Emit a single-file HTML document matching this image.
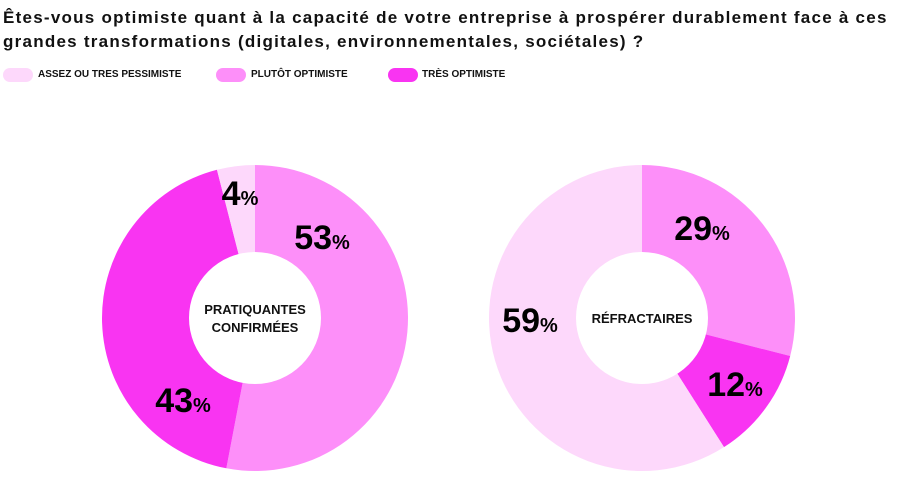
<!DOCTYPE html>
<html><head><meta charset="utf-8"><style>
body{margin:0;width:906px;height:489px;background:#fff;overflow:hidden;font-family:"Liberation Sans",sans-serif;}
#title{position:absolute;left:3px;top:6px;font-size:17px;letter-spacing:1.25px;font-weight:bold;line-height:24px;color:#111;white-space:nowrap;}
.leg{position:absolute;top:68px;height:14px;}
.sw{position:absolute;width:30px;height:14px;border-radius:7px;}
.lt{position:absolute;top:1px;font-size:10px;font-weight:bold;white-space:nowrap;color:#111;}
</style></head><body>
<div id="title">Êtes-vous optimiste quant à la capacité de votre entreprise à prospérer durablement face à ces<br>grandes transformations (digitales, environnementales, sociétales) ?</div>
<div class="leg"><div class="sw" style="left:3px;background:#fdd8fb"></div><div class="lt" style="left:38px">ASSEZ OU TRES PESSIMISTE</div></div>
<div class="leg"><div class="sw" style="left:216px;background:#fd8ff9"></div><div class="lt" style="left:251px">PLUTÔT OPTIMISTE</div></div>
<div class="leg"><div class="sw" style="left:388px;background:#f934f2"></div><div class="lt" style="left:422px">TRÈS OPTIMISTE</div></div>
<svg id="chart" width="906" height="489" style="position:absolute;left:0;top:0"></svg>
<script>
const groups=["PRATIQUANTES|CONFIRMÉES","RÉFRACTAIRES"];
const plutot=[53,29];
const tres=[43,12];
const pessimiste=[4,59];
const colors=["#fd8ff9","#f934f2","#fdd8fb"];
const centers=[[255,318],[642,318]];
const labelPos=[[[322,237],[183,400],[240,193]],[[702,228],[735,384],[530,320]]];
const R=153,r=66;
const svg=document.getElementById('chart');
const NS="http://www.w3.org/2000/svg";
function pt(cx,cy,rad,f){const a=f*2*Math.PI;return [cx+rad*Math.sin(a),cy-rad*Math.cos(a)];}
groups.forEach((g,i)=>{
  const vals=[plutot[i],tres[i],pessimiste[i]];
  const tot=vals.reduce((a,b)=>a+b,0);
  const [cx,cy]=centers[i];let acc=0;
  vals.forEach((v,j)=>{
    const f0=acc/tot,f1=(acc+v)/tot;acc+=v;
    const p0=pt(cx,cy,R,f0),p1=pt(cx,cy,R,f1);
    const large=(f1-f0)>0.5?1:0;
    const p=document.createElementNS(NS,'path');
    p.setAttribute('d',`M${cx},${cy}L${p0[0]},${p0[1]}A${R},${R} 0 ${large} 1 ${p1[0]},${p1[1]}Z`);
    p.setAttribute('fill',colors[j]);
    
    
    svg.appendChild(p);
  });
  const c=document.createElementNS(NS,'circle');
  c.setAttribute('cx',cx);c.setAttribute('cy',cy);c.setAttribute('r',r);c.setAttribute('fill','#fff');
  
  
  svg.appendChild(c);
  const lines=g.split('|');
  lines.forEach((ln,k)=>{
    const t=document.createElementNS(NS,'text');
    t.setAttribute('x',cx);t.setAttribute('y',cy+5+(k-(lines.length-1)/2)*18);
    t.setAttribute('text-anchor','middle');t.setAttribute('font-size','13');t.setAttribute('font-weight','bold');
    t.setAttribute('font-family','Liberation Sans, sans-serif');t.setAttribute('fill','#111');
    t.textContent=ln;
    
    
    svg.appendChild(t);
  });
  vals.forEach((v,j)=>{
    const [lx,ly]=labelPos[i][j];
    const t=document.createElementNS(NS,'text');
    t.setAttribute('x',lx);t.setAttribute('y',ly+12);t.setAttribute('text-anchor','middle');
    t.setAttribute('font-family','Liberation Sans, sans-serif');t.setAttribute('font-weight','bold');t.setAttribute('fill','#000');
    t.innerHTML=`<tspan font-size="34" font-weight="900">${v}</tspan><tspan font-size="20">%</tspan>`;
    
    
    svg.appendChild(t);
  });
});
</script>
</body></html>
